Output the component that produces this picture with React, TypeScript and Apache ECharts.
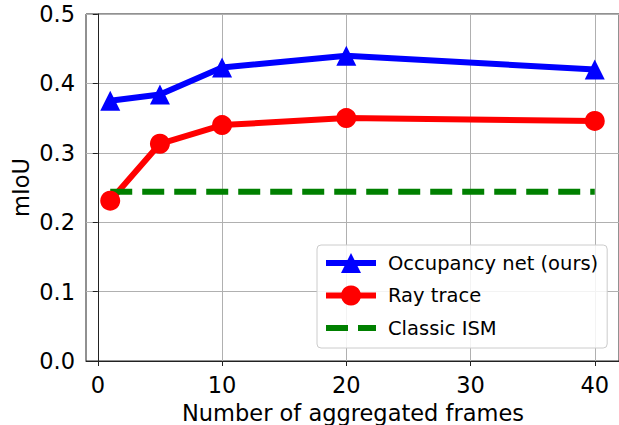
import React, { useEffect, useRef } from "react";
import * as echarts from "echarts";

const frames = [1, 5, 10, 20, 40];
const occupancyNet = [0.375, 0.384, 0.423, 0.44, 0.42];
const rayTrace = [0.231, 0.313, 0.34, 0.35, 0.346];
const classicISM = [0.244, 0.244, 0.244, 0.244, 0.244];
const xTicks = [0, 10, 20, 30, 40];
const xTitle = "Number of aggregated frames";
const yTitle = "mIoU";

const FONT = "DejaVu Sans";

export default function App() {
  const ref = useRef<HTMLDivElement>(null);
  useEffect(() => {
    if (!ref.current) return;
    const chart = echarts.init(ref.current, undefined, { renderer: "svg" });
    const pair = (ys: number[]) => frames.map((x, i) => [x, ys[i]]);
    chart.setOption({
      animation: false,
      backgroundColor: "#ffffff",
      grid: {
        left: 86,
        top: 14,
        width: 534,
        height: 347,
        show: true,
        borderColor: "#222",
        borderWidth: 1,
        backgroundColor: "transparent",
      },
      graphic: [
        {
          type: "text",
          x: 353,
          y: 412.5,
          style: {
            text: xTitle,
            font: `22.5px "${FONT}"`,
            fill: "#000",
            align: "center",
            verticalAlign: "middle",
          },
        },
        {
          type: "text",
          x: 20.5,
          y: 187.5,
          rotation: Math.PI / 2,
          style: {
            text: yTitle,
            font: `22.5px "${FONT}"`,
            fill: "#000",
            align: "center",
            verticalAlign: "middle",
          },
        },
      ],
      xAxis: {
        type: "value",
        min: -0.95,
        max: 41.95,
        axisLine: { show: true, lineStyle: { color: "#222", width: 1 } },
        axisTick: { show: true, length: 5, customValues: xTicks, lineStyle: { color: "#222" } },
        axisLabel: {
          customValues: xTicks,
          margin: 12,
          fontFamily: FONT,
          fontSize: 22.5,
          color: "#000",
        },
        splitLine: { show: true, lineStyle: { color: "#b0b0b0", width: 1 } },
      },
      yAxis: {
        type: "value",
        min: 0,
        max: 0.5,
        interval: 0.1,
        axisLine: { show: true, lineStyle: { color: "#222", width: 1 } },
        axisTick: { show: true, length: 5, lineStyle: { color: "#222" } },
        axisLabel: {
          margin: 11,
          fontFamily: FONT,
          fontSize: 22.5,
          color: "#000",
          formatter: (v: number) => v.toFixed(1),
        },
        splitLine: { show: true, lineStyle: { color: "#b0b0b0", width: 1 } },
      },
      legend: {
        orient: "vertical",
        left: 317,
        top: 245,
        padding: [8, 9, 10, 6],
        itemWidth: 50,
        itemHeight: 25,
        itemGap: 12.5,
        backgroundColor: "rgba(255,255,255,0.85)",
        borderColor: "#cccccc",
        borderWidth: 1,
        borderRadius: 4,
        textStyle: {
          fontFamily: FONT,
          fontSize: 19.5,
          color: "#000",
          padding: [0, 0, 0, 7],
        },
        data: [
          { name: "Occupancy net (ours)", lineStyle: { width: 6 } },
          { name: "Ray trace", lineStyle: { width: 6 } },
          {
            name: "Classic ISM",
            lineStyle: { width: 6, type: [22, 10] },
            itemStyle: { opacity: 0 },
          },
        ],
      },
      series: [
        {
          name: "Occupancy net (ours)",
          type: "line",
          data: pair(occupancyNet),
          symbol: "triangle",
          symbolSize: 20,
          color: "#0000ff",
          itemStyle: { color: "#0000ff" },
          lineStyle: { color: "#0000ff", width: 6 },
        },
        {
          name: "Ray trace",
          type: "line",
          data: pair(rayTrace),
          symbol: "circle",
          symbolSize: 20,
          color: "#ff0000",
          itemStyle: { color: "#ff0000" },
          lineStyle: { color: "#ff0000", width: 6 },
        },
        {
          name: "Classic ISM",
          type: "line",
          data: pair(classicISM),
          symbol: "none",
          color: "#008000",
          itemStyle: { color: "#008000" },
          lineStyle: { color: "#008000", width: 6, type: [22, 10], cap: "butt" },
        },
      ],
    });
    return () => chart.dispose();
  }, []);
  return (
    <div
      ref={ref}
      style={{ position: "fixed", left: 0, top: 0, width: 619, height: 425 }}
    />
  );
}
